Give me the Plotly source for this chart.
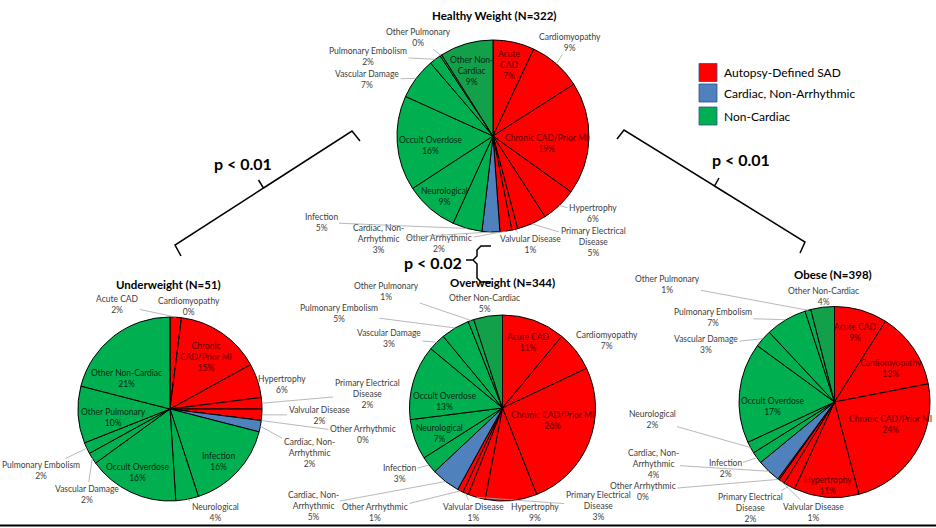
import math
import plotly.graph_objects as go

W, H = 936, 528

# ---------------- data ----------------
categories = ["Acute CAD", "Cardiomyopathy", "Chronic CAD/Prior MI", "Hypertrophy",
              "Primary Electrical Disease", "Valvular Disease", "Other Arrhythmic",
              "Cardiac, Non-Arrhythmic", "Infection", "Neurological", "Occult Overdose",
              "Vascular Damage", "Pulmonary Embolism", "Other Pulmonary", "Other Non-Cardiac"]
groups = ["Autopsy-Defined SAD"] * 7 + ["Cardiac, Non-Arrhythmic"] + ["Non-Cardiac"] * 7

healthy_pct = [7, 9, 19, 6, 5, 1, 2, 3, 5, 9, 16, 7, 2, 0.3, 9]
underweight_pct = [2, 0, 15, 6, 2, 2, 0, 2, 16, 4, 16, 2, 2, 10, 21]
overweight_pct = [11, 7, 26, 9, 3, 1, 1, 5, 3, 7, 13, 3, 5, 1, 5]
obese_pct = [9, 13, 24, 11, 2, 1, 0.25, 4, 2, 2, 17, 3, 7, 1, 4]

panel_titles = ["Healthy Weight (N=322)", "Underweight (N=51)", "Overweight (N=344)", "Obese (N=398)"]
legend_names = ["Autopsy-Defined SAD", "Cardiac, Non-Arrhythmic", "Non-Cardiac"]
p_texts = ["p < 0.01", "p < 0.01", "p < 0.02"]

# ---------------- styles ----------------
group_color = {"Autopsy-Defined SAD": "#FF0000", "Cardiac, Non-Arrhythmic": "#4F81BD", "Non-Cardiac": "#00B050"}
group_text = {"Autopsy-Defined SAD": "#5C0000", "Cardiac, Non-Arrhythmic": "#1F3864", "Non-Cardiac": "#002A12"}
dark_green = "#12A04A"
FONT = "Lato"
OUT_COLOR = "#404040"
LEADER = "#A6A6A6"

wrap_default = {"Primary Electrical Disease": "Primary Electrical<br>Disease",
                "Cardiac, Non-Arrhythmic": "Cardiac, Non-<br>Arrhythmic"}

# layout of each panel: center, radius, label placement (mode, x, y) in pixels
panels = [
    dict(values=healthy_pct, cx=493, cy=136, r=96, title_xy=(494, 15), dark_last=True,
         wrap={"Acute CAD": "Acute<br>CAD", "Other Non-Cardiac": "Other Non-<br>Cardiac"},
         labels=[("in", 509, 64.5), ("out", 570, 42.5), ("in", 546, 143.5), ("out", 593, 214),
                 ("out", 593, 242), ("out", 530, 244.5), ("out", 439, 243.5), ("out", 379, 239),
                 ("out", 321, 222.5), ("in", 444, 196), ("in", 430, 145.5), ("out", 367, 79.5),
                 ("out", 368, 56), ("out", 418, 37.5), ("in", 471, 71.5)]),
    dict(values=underweight_pct, cx=170, cy=409, r=92, title_xy=(168, 284), dark_last=False,
         wrap={"Chronic CAD/Prior MI": "Chronic<br>CAD/Prior MI"},
         labels=[("out", 117, 304.5), ("out", 189, 306.5), ("in", 206, 357), ("out", 282, 384),
                 ("out", 367, 394), ("out", 319, 415), ("out", 363, 434), ("out", 309, 453),
                 ("in", 218, 461.5), ("out", 215, 512), ("in", 137, 472.5), ("out", 87, 494),
                 ("out", 41, 470.5), ("in", 113, 417.5), ("in", 127, 378.5)]),
    dict(values=overweight_pct, cx=502.5, cy=408, r=93, title_xy=(502, 282), dark_last=True,
         wrap={},
         labels=[("in", 528, 342), ("out", 607, 340.5), ("in", 552, 420.5), ("out", 535, 512),
                 ("out", 598, 506), ("out", 473, 512), ("out", 375, 512), ("out", 313, 506),
                 ("out", 399, 473), ("in", 439, 433), ("in", 444, 401.5), ("out", 389, 338),
                 ("out", 339, 313), ("out", 386, 291.5), ("out", 485, 303)]),
    dict(values=obese_pct, cx=834.5, cy=402, r=95.5, title_xy=(833, 274), dark_last=True,
         wrap={},
         labels=[("in", 855, 332), ("in", 891, 368), ("in", 890, 424.5), ("in", 828, 485),
                 ("out", 750, 508), ("out", 813, 512), ("out", 643, 491), ("out", 653, 464),
                 ("out", 725, 468.5), ("out", 652, 419.5), ("in", 772, 406.5), ("out", 706, 344.5),
                 ("out", 713, 317.5), ("out", 667, 284), ("out", 823, 296)]),
]


def X(px):
    return px / W


def Y(py):
    return 1 - py / H


def note(x, y, text, size, color, xanchor="center"):
    return dict(x=X(x), y=Y(y), xref="paper", yref="paper", text=text, showarrow=False,
                xanchor=xanchor, yanchor="middle", align="center",
                font=dict(family=FONT, size=size, color=color))


fig = go.Figure()
annotations = []

for k, p in enumerate(panels):
    vals = p["values"]
    cx, cy, r = p["cx"], p["cy"], p["r"]
    colors = [group_color[g] for g in groups]
    if p["dark_last"]:
        colors[-1] = dark_green
    fig.add_trace(go.Pie(
        labels=categories, values=vals, sort=False, direction="clockwise", rotation=0,
        marker=dict(colors=colors, line=dict(color="black", width=1)),
        textinfo="none", hoverinfo="label+percent", showlegend=False,
        domain=dict(x=[X(cx - r), X(cx + r)], y=[Y(cy + r), Y(cy - r)]),
    ))
    total = sum(vals)
    cum = 0.0
    for i, v in enumerate(vals):
        mid = (cum + v / 2) / total * 2 * math.pi
        cum += v
        name = p["wrap"].get(categories[i], wrap_default.get(categories[i], categories[i]))
        txt = f"{name}<br>{round(v / total * 100)}%"
        mode, lx, ly = p["labels"][i]
        if mode == "in":
            annotations.append(note(lx, ly, txt, 8.5, group_text[groups[i]]))
        else:
            px = cx + r * math.sin(mid)
            py = cy - r * math.cos(mid)
            annotations.append(dict(
                x=X(px), y=Y(py), xref="paper", yref="paper", text=txt,
                showarrow=True, arrowhead=0, arrowwidth=0.8, arrowcolor=LEADER, standoff=0,
                ax=lx - px, ay=ly - py, axref="pixel", ayref="pixel",
                font=dict(family=FONT, size=8.5, color=OUT_COLOR), align="center"))
    tx, ty = p["title_xy"]
    annotations.append(note(tx, ty, f"<b>{panel_titles[k]}</b>", 11.5, "black"))

# legend
shapes = []
leg_y = [72.5, 93, 116]
leg_cols = [group_color[g] for g in legend_names]
for name, yy, col in zip(legend_names, leg_y, leg_cols):
    shapes.append(dict(type="rect", xref="paper", yref="paper",
                       x0=X(699), x1=X(717), y0=Y(yy - 9), y1=Y(yy + 9),
                       fillcolor=col, line=dict(color="#2F528F", width=0.8)))
    annotations.append(note(722, yy, name, 12, "black", xanchor="left"))

# p-values
p_pos = [(243, 164), (741, 159), (433, 262)]
for t, (xx, yy) in zip(p_texts, p_pos):
    annotations.append(note(xx, yy, f"<b>{t}</b>", 16, "black"))


def path(points_list):
    s = ""
    for pts in points_list:
        s += "M " + " L ".join(f"{X(a):.5f},{Y(b):.5f}" for a, b in pts) + " "
    return s.strip()


# left brace
shapes.append(dict(type="path", xref="paper", yref="paper",
                   path=path([[(181, 256), (175, 245), (263.5, 188), (258.5, 180)],
                              [(263.5, 188), (352, 131), (360, 141)]]),
                   line=dict(color="black", width=1.5)))
# right brace
shapes.append(dict(type="path", xref="paper", yref="paper",
                   path=path([[(617, 139), (624, 130), (714.5, 186), (719, 178)],
                              [(714.5, 186), (805, 242), (800, 253)]]),
                   line=dict(color="black", width=1.5)))
# middle brace
shapes.append(dict(type="path", xref="paper", yref="paper",
                   path=path([[(491, 246), (481, 246), (477, 250), (477, 256), (473, 260), (466, 260)],
                              [(473, 260), (477, 264), (477, 278), (481, 282), (491, 282)]]),
                   line=dict(color="black", width=1.5)))
# bottom rule
shapes.append(dict(type="line", xref="paper", yref="paper", x0=0, x1=1, y0=Y(525.5), y1=Y(525.5),
                   line=dict(color="black", width=2)))

fig.update_layout(
    width=W, height=H, margin=dict(l=0, r=0, t=0, b=0, pad=0),
    paper_bgcolor="white", plot_bgcolor="white",
    annotations=annotations, shapes=shapes, showlegend=False,
    font=dict(family=FONT),
)

fig.write_html("out.html", config={"displayModeBar": False},
               post_script="document.body.style.margin='0';document.body.style.overflow='hidden';")
